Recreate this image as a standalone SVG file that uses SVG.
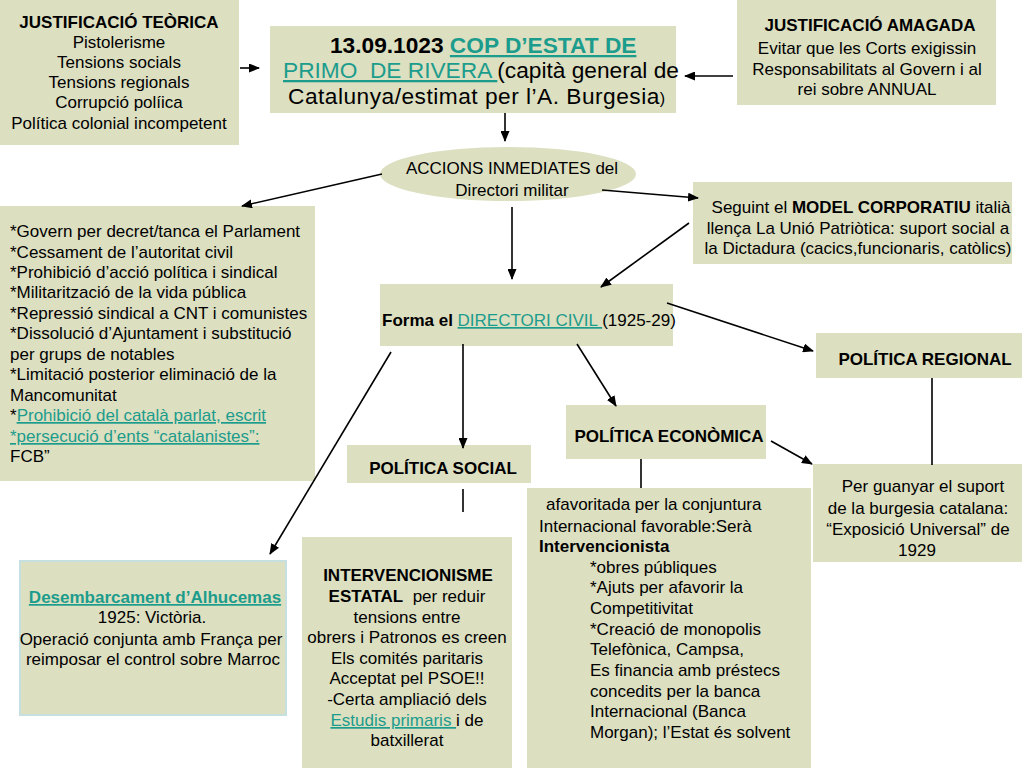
<svg xmlns="http://www.w3.org/2000/svg" width="1024" height="768" viewBox="0 0 1024 768">
<defs>
<style>
.box{fill:#dcdfc0;}
text{font-family:"Liberation Sans",Arial,sans-serif;font-size:17px;fill:#000;}
text.t{font-size:22.7px;}
text.m{font-size:17px;}
text.h{font-size:17px;}
tspan.sm{font-size:16px;}
.c{text-anchor:middle;}
.b{font-weight:bold;}
.lk{fill:#1c9c8c;text-decoration:underline;}
.con line{stroke:#000;stroke-width:1.6;}
.arr{marker-end:url(#ah);}
</style>
<marker id="ah" markerUnits="userSpaceOnUse" markerWidth="11" markerHeight="9" refX="10" refY="4.5" orient="auto">
<path d="M0,0 L11,4.5 L0,9 z" fill="#000"/>
</marker>
</defs>
<rect width="1024" height="768" fill="#fff"/>

<g id="justificacio-teorica">
<rect class="box" x="0" y="0" width="239" height="145"/>
<text class="c b m" x="119" y="28">JUSTIFICACIÓ TEÒRICA</text>
<text class="c m" x="119" y="48">Pistolerisme</text>
<text class="c m" x="119" y="68">Tensions socials</text>
<text class="c m" x="119" y="88">Tensions regionals</text>
<text class="c m" x="119" y="108">Corrupció políica</text>
<text class="c m" x="119" y="129">Política colonial incompetent</text>
</g>

<g id="cop-estat">
<rect class="box" x="270" y="26" width="406" height="87"/>
<text x="330" y="53" class="t b">13.09.1023 <tspan class="lk">COP D’ESTAT DE</tspan></text>
<text x="283" y="78" class="t" xml:space="preserve"><tspan class="lk">PRIMO  DE RIVERA </tspan>(capità general de</text>
<text x="288" y="104" class="t" letter-spacing="0.5">Catalunya/estimat per l’A. Burgesia<tspan class="sm">)</tspan></text>
</g>

<g id="justificacio-amagada">
<rect class="box" x="737" y="0" width="259" height="105"/>
<text class="c b h" x="870" y="31">JUSTIFICACIÓ AMAGADA</text>
<text class="c" x="867" y="54">Evitar que les Corts exigissin</text>
<text class="c" x="867" y="75">Responsabilitats al Govern i al</text>
<text class="c" x="867" y="95">rei sobre ANNUAL</text>
</g>

<g id="accions-inmediates">
<ellipse class="box" cx="508" cy="174" rx="128" ry="27"/>
<text class="c" x="512" y="174">ACCIONS INMEDIATES del</text>
<text class="c" x="512" y="196">Directori militar</text>
</g>

<g id="mesures">
<rect class="box" x="0" y="206" width="315" height="275"/>
<text x="10" y="237">*Govern per decret/tanca el Parlament</text>
<text x="10" y="258">*Cessament de l’autoritat civil</text>
<text x="10" y="278">*Prohibició d’acció política i sindical</text>
<text x="10" y="298">*Militarització de la vida pública</text>
<text x="10" y="319">*Repressió sindical a CNT i comunistes</text>
<text x="10" y="339">*Dissolució d’Ajuntament i substitució</text>
<text x="10" y="360">per grups de notables</text>
<text x="10" y="380">*Limitació posterior eliminació de la</text>
<text x="10" y="401">Mancomunitat</text>
<text x="10" y="421">*<tspan class="lk">Prohibició del català parlat, escrit</tspan></text>
<text x="10" y="442"><tspan class="lk">*persecució d’ents “catalanistes”:</tspan></text>
<text x="10" y="462">FCB”</text>
</g>

<g id="model-corporatiu">
<rect class="box" x="693" y="182" width="319" height="82"/>
<text class="c" x="861" y="213">Seguint el <tspan class="b">MODEL CORPORATIU</tspan> italià</text>
<text class="c" x="858" y="234">llença La Unió Patriòtica: suport social a</text>
<text class="c" x="858" y="254">la Dictadura (cacics,funcionaris, catòlics)</text>
</g>

<g id="directori-civil">
<rect class="box" x="380" y="284" width="293" height="62"/>
<text x="382" y="326"><tspan class="b">Forma el </tspan><tspan class="lk">DIRECTORI CIVIL </tspan>(1925-29)</text>
</g>

<g id="politica-regional">
<rect class="box" x="816" y="333" width="206" height="45"/>
<text class="c b" x="925" y="365">POLÍTICA REGIONAL</text>
</g>

<g id="politica-economica">
<rect class="box" x="566" y="405" width="200" height="54"/>
<text class="c b" x="669" y="442">POLÍTICA ECONÒMICA</text>
</g>

<g id="politica-social">
<rect class="box" x="347" y="445" width="184" height="38"/>
<text class="c b" x="443" y="474">POLÍTICA SOCIAL</text>
</g>

<g id="suport-burgesia">
<rect class="box" x="813" y="464" width="209" height="98"/>
<text class="c" x="923" y="492">Per guanyar el suport</text>
<text class="c" x="918" y="514">de la burgesia catalana:</text>
<text class="c" x="918" y="535">“Exposició Universal” de</text>
<text class="c" x="917" y="556">1929</text>
</g>

<g id="economia-detall">
<rect class="box" x="527" y="488" width="284" height="280"/>
<text x="546" y="510">afavoritada per la conjuntura</text>
<text x="539" y="532">Internacional favorable:Serà</text>
<text x="539" y="552" class="b">Intervencionista</text>
<text x="590" y="573">*obres públiques</text>
<text x="590" y="593">*Ajuts per afavorir la</text>
<text x="590" y="614">Competitivitat</text>
<text x="590" y="635">*Creació de monopolis</text>
<text x="590" y="655">Telefònica, Campsa,</text>
<text x="590" y="676">Es financia amb préstecs</text>
<text x="590" y="697">concedits per la banca</text>
<text x="590" y="717">Internacional (Banca</text>
<text x="590" y="738">Morgan); l’Estat és solvent</text>
</g>

<g id="intervencionisme">
<rect class="box" x="302" y="537" width="210" height="231"/>
<text class="c b" x="408" y="581">INTERVENCIONISME</text>
<text class="c" x="407" y="602" xml:space="preserve"><tspan class="b">ESTATAL</tspan>  per reduir</text>
<text class="c" x="407" y="623">tensions entre</text>
<text class="c" x="407" y="643">obrers i Patronos es creen</text>
<text class="c" x="407" y="664">Els comités paritaris</text>
<text class="c" x="407" y="684">Acceptat pel PSOE!!</text>
<text class="c" x="407" y="705">-Certa ampliació dels</text>
<text class="c" x="407" y="726"><tspan class="lk">Estudis primaris </tspan>i de</text>
<text class="c" x="407" y="746">batxillerat</text>
</g>

<g id="alhucemas">
<rect class="box" x="20" y="561" width="266" height="154" stroke="#c6dfe0" stroke-width="2"/>
<text class="c b lk" x="155" y="603">Desembarcament d’Alhucemas</text>
<text class="c" x="152" y="623">1925: Victòria.</text>
<text class="c" x="151" y="645">Operació conjunta amb França per</text>
<text class="c" x="153" y="665">reimposar el control sobre Marroc</text>
</g>

<g id="connectors" class="con">
<line class="arr" x1="240" y1="68" x2="259" y2="68"/>
<line class="arr" x1="733" y1="76" x2="685" y2="76"/>
<line class="arr" x1="505" y1="113" x2="505" y2="141"/>
<line class="arr" x1="382" y1="174" x2="242" y2="206"/>
<line class="arr" x1="602" y1="190" x2="698" y2="198"/>
<line class="arr" x1="512" y1="207" x2="512" y2="279"/>
<line class="arr" x1="689" y1="223" x2="601" y2="287"/>
<line class="arr" x1="667" y1="303" x2="813" y2="351"/>
<line class="arr" x1="577" y1="344" x2="616" y2="406"/>
<line class="arr" x1="463" y1="344" x2="463" y2="448"/>
<line class="arr" x1="391" y1="352" x2="270" y2="554"/>
<line class="arr" x1="771" y1="441" x2="812" y2="464"/>
<line x1="932" y1="378" x2="932" y2="465"/>
<line x1="641" y1="459" x2="641" y2="488"/>
<line x1="463" y1="489" x2="463" y2="512"/>
</g>
</svg>
